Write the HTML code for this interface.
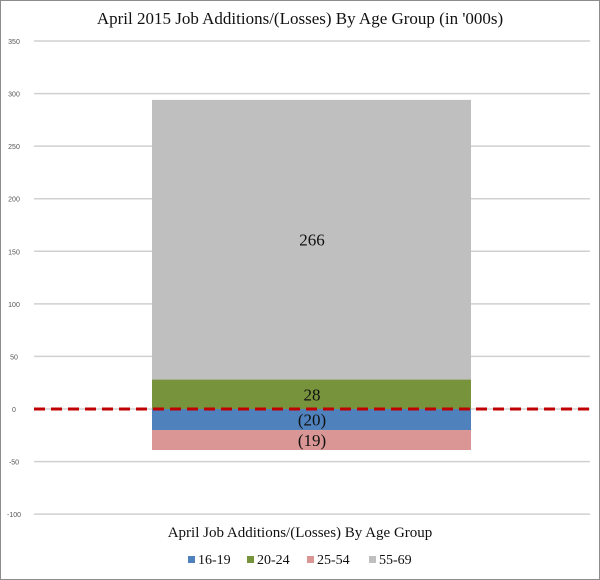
<!DOCTYPE html>
<html><head><meta charset="utf-8"><style>
html,body{margin:0;padding:0;background:#fff}
svg{display:block}
</style></head><body>
<svg width="600" height="580" viewBox="0 0 600 580" xmlns="http://www.w3.org/2000/svg">
<rect x="0.5" y="0.5" width="599" height="579" fill="#fff" stroke="#8c8c8c"/>
<text x="300" y="24" text-anchor="middle" font-family="Liberation Serif, serif" font-size="17" fill="#111">April 2015 Job Additions/(Losses) By Age Group (in '000s)</text>
<g id="grid"></g><g id="bars"></g>
<line x1="34" x2="590" y1="409" y2="409" stroke="#c00000" stroke-width="3" stroke-dasharray="11,6" id="zero"/>
<g id="labels"></g>
<text x="300" y="537" text-anchor="middle" font-family="Liberation Serif, serif" font-size="15" fill="#111">April Job Additions/(Losses) By Age Group</text>
<g id="legend"></g>
</svg>
<script>
const ticks=[350,300,250,200,150,100,50,0,-50,-100];
const series=["16-19","20-24","25-54","55-69"];
const values=[-20,28,-19,266];
const labels=["(20)","28","(19)","266"];
const colors=["#4f81bd","#77933c","#d99694","#bfbfbf"];
const NS="http://www.w3.org/2000/svg";
const y=v=>409-v*1.0514;
function mk(t,a,p){const e=document.createElementNS(NS,t);for(const k in a)e.setAttribute(k,a[k]);p.appendChild(e);return e;}
const grid=document.getElementById('grid');
ticks.forEach(t=>{
 const l=mk('line',{x1:34,x2:590,y1:y(t),y2:y(t),stroke:'#d0d0d0','stroke-width':1.5},grid);
 
 
 const tx=mk('text',{x:14,y:y(t)+3,'text-anchor':'middle','font-family':'Liberation Sans, sans-serif','font-size':7,fill:'#555'},grid);
 tx.textContent=t;
 
 
});
const bars=document.getElementById('bars'),lab=document.getElementById('labels');
let pos=0,neg=0;
values.forEach((v,i)=>{
 let a,b;
 if(v>=0){a=pos;b=pos+v;pos=b;}else{a=neg;b=neg+v;neg=b;}
 const top=y(Math.max(a,b)),bot=y(Math.min(a,b));
 const r=mk('rect',{x:152,y:top,width:319,height:bot-top,fill:colors[i]},bars);
 
 
 const t=mk('text',{x:312,y:(top+bot)/2+6,'text-anchor':'middle','font-family':'Liberation Serif, serif','font-size':17,fill:'#111'},lab);
 t.textContent=labels[i];
 
 
});
const lg=document.getElementById('legend');
const lx=[188,247,307,369];
series.forEach((s,i)=>{
 const g=mk('g',{},lg);
 
 
 mk('rect',{x:lx[i],y:556,width:7,height:7,fill:colors[i]},g);
 const t=mk('text',{x:lx[i]+10,y:564,'font-family':'Liberation Serif, serif','font-size':14,fill:'#111'},g);
 t.textContent=s;
});
</script>
</body></html>
